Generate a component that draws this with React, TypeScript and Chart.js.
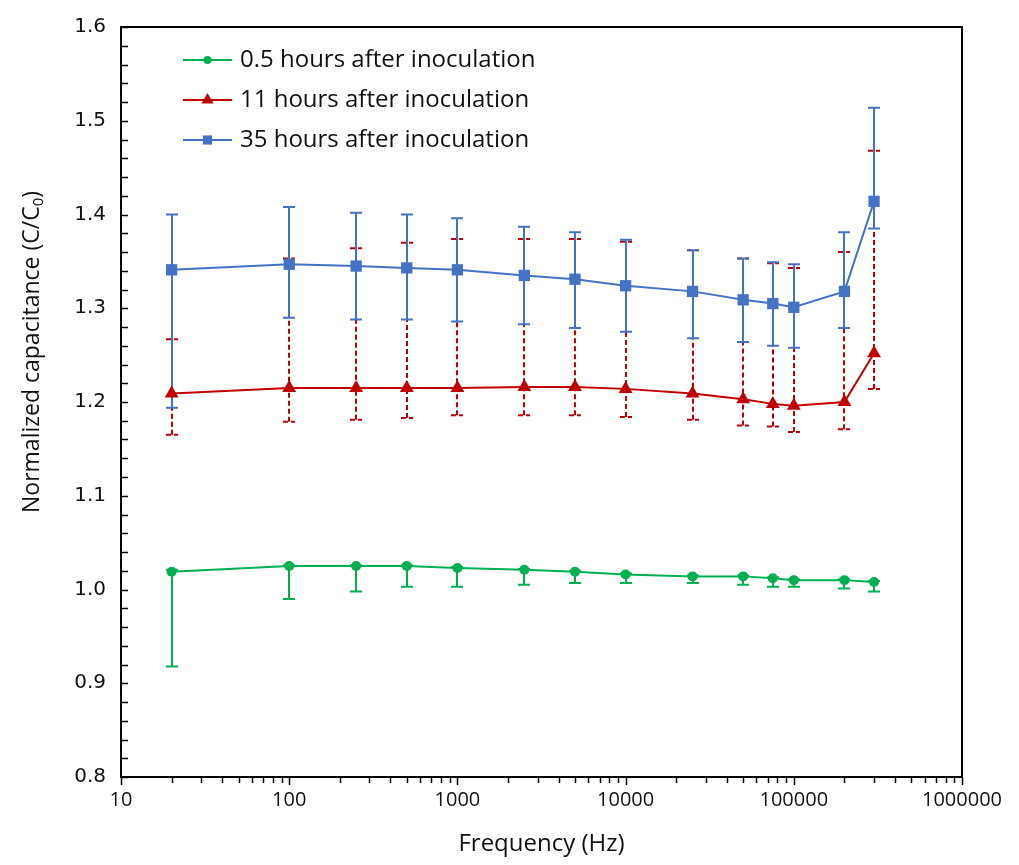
import React, { useEffect, useRef } from 'react';
import { Chart, registerables } from 'chart.js';
Chart.register(...registerables);

const frequencies = [20, 100, 250, 500, 1000, 2500, 5000, 10000, 25000, 50000, 75000, 100000, 200000, 300000];

const h05Values = [1.019, 1.025, 1.025, 1.025, 1.023, 1.021, 1.019, 1.016, 1.014, 1.014, 1.012, 1.010, 1.010, 1.008];
const h05Low = [0.918, 0.990, 0.998, 1.003, 1.003, 1.005, 1.007, 1.007, 1.007, 1.005, 1.003, 1.003, 1.001, 0.998];
const h05High = [1.021, 1.026, 1.026, 1.026, 1.024, 1.022, 1.020, 1.017, 1.015, 1.015, 1.013, 1.011, 1.011, 1.009];

const h11Values = [1.209, 1.215, 1.215, 1.215, 1.215, 1.216, 1.216, 1.214, 1.209, 1.203, 1.198, 1.196, 1.200, 1.252];
const h11Low = [1.165, 1.179, 1.181, 1.183, 1.186, 1.186, 1.186, 1.184, 1.181, 1.175, 1.174, 1.168, 1.171, 1.214];
const h11High = [1.267, 1.353, 1.364, 1.370, 1.374, 1.374, 1.374, 1.371, 1.362, 1.353, 1.348, 1.343, 1.360, 1.468];

const h35Values = [1.341, 1.347, 1.345, 1.343, 1.341, 1.335, 1.331, 1.324, 1.318, 1.309, 1.305, 1.301, 1.318, 1.414];
const h35Low = [1.194, 1.290, 1.288, 1.288, 1.286, 1.283, 1.279, 1.275, 1.268, 1.264, 1.260, 1.258, 1.279, 1.385];
const h35High = [1.400, 1.408, 1.402, 1.400, 1.396, 1.387, 1.381, 1.373, 1.362, 1.353, 1.349, 1.347, 1.381, 1.514];

const seriesLabels = ['0.5 hours after inoculation', '11 hours after inoculation', '35 hours after inoculation'];
const xTickValues = [10, 100, 1000, 10000, 100000, 1000000];
const yTickValues = [0.8, 0.9, 1.0, 1.1, 1.2, 1.3, 1.4, 1.5, 1.6];

const GREEN = '#00B050';
const RED = '#C00000';
const BLUE = '#4472C4';

const seriesStyles = [
  { color: GREEN, style: 'circle', radius: 5, legendRadius: 4, dash: [] as number[] },
  { color: RED, style: 'triangle', radius: 8, legendRadius: 7, dash: [5, 3] },
  { color: BLUE, style: 'rect', radius: 8, legendRadius: 6.5, dash: [] as number[] },
];
const lows = [h05Low, h11Low, h35Low];
const highs = [h05High, h11High, h35High];

function drawMarker(ctx: CanvasRenderingContext2D, style: string, x: number, y: number, r: number, color: string) {
  ctx.save();
  ctx.fillStyle = color;
  ctx.beginPath();
  if (style === 'circle') {
    ctx.arc(x, y, r, 0, Math.PI * 2);
  } else if (style === 'triangle') {
    ctx.moveTo(x, y - r);
    ctx.lineTo(x + r * 0.866, y + r * 0.5);
    ctx.lineTo(x - r * 0.866, y + r * 0.5);
    ctx.closePath();
  } else {
    const s = r * Math.SQRT1_2;
    ctx.rect(x - s, y - s, 2 * s, 2 * s);
  }
  ctx.fill();
  ctx.restore();
}

const errorBarPlugin = {
  id: 'errorBars',
  beforeDatasetsDraw(chart: any) {
    const ctx = chart.ctx as CanvasRenderingContext2D;
    const xs = chart.scales.x;
    const ys = chart.scales.y;
    for (let d = 0; d < 3; d++) {
      const st = seriesStyles[d];
      ctx.save();
      ctx.strokeStyle = st.color;
      ctx.lineWidth = 2;
      ctx.setLineDash(st.dash);
      frequencies.forEach((f, i) => {
        const x = Math.round(xs.getPixelForValue(f));
        const y1 = ys.getPixelForValue(lows[d][i]);
        const y2 = ys.getPixelForValue(highs[d][i]);
        ctx.beginPath();
        ctx.moveTo(x, y1);
        ctx.lineTo(x, y2);
        ctx.moveTo(x - 6, y1);
        ctx.lineTo(x + 6, y1);
        ctx.moveTo(x - 6, y2);
        ctx.lineTo(x + 6, y2);
        ctx.stroke();
      });
      ctx.restore();
    }
  },
};

const decorPlugin = {
  id: 'decor',
  afterDraw(chart: any) {
    const ctx = chart.ctx as CanvasRenderingContext2D;
    const a = chart.chartArea;
    const xs = chart.scales.x;
    const ys = chart.scales.y;
    ctx.save();
    // frame
    ctx.strokeStyle = '#000';
    ctx.lineWidth = 2;
    ctx.setLineDash([]);
    ctx.strokeRect(a.left, a.top, a.right - a.left, a.bottom - a.top);
    // y ticks inside, every 0.02
    ctx.lineWidth = 1.5;
    for (let k = 0; k <= 40; k++) {
      const v = 0.8 + k * 0.02;
      const y = Math.round(ys.getPixelForValue(v)) + 0.5;
      ctx.beginPath();
      ctx.moveTo(a.left, y);
      ctx.lineTo(a.left + 7, y);
      ctx.stroke();
    }
    // x ticks outside
    for (let e = 1; e <= 6; e++) {
      for (let m = 1; m <= 9; m++) {
        const v = m * Math.pow(10, e);
        if (v > 1000000) break;
        const x = Math.round(xs.getPixelForValue(v)) + 0.5;
        ctx.beginPath();
        ctx.moveTo(x, a.bottom);
        ctx.lineTo(x, a.bottom + (m === 1 ? 8 : 6));
        ctx.stroke();
      }
    }
    // axis titles
    ctx.fillStyle = '#111';
    ctx.font = '24px "Open Sans"';
    ctx.textAlign = 'center';
    ctx.textBaseline = 'middle';
    ctx.fillText('Frequency (Hz)', (a.left + a.right) / 2, 844);

    ctx.save();
    ctx.translate(31, 352);
    ctx.rotate(-Math.PI / 2);
    const main = 'Normalized capacitance (C/C';
    ctx.font = '23px "Open Sans"';
    const w1 = ctx.measureText(main).width;
    const w3 = ctx.measureText(')').width;
    ctx.font = '15px "Open Sans"';
    const w2 = ctx.measureText('0').width;
    const total = w1 + w2 + w3;
    let sx = -total / 2;
    ctx.textAlign = 'left';
    ctx.textBaseline = 'alphabetic';
    ctx.font = '23px "Open Sans"';
    ctx.fillText(main, sx, 8);
    sx += w1;
    ctx.font = '15px "Open Sans"';
    ctx.fillText('0', sx, 12);
    sx += w2;
    ctx.font = '23px "Open Sans"';
    ctx.fillText(')', sx, 8);
    ctx.restore();

    // legend
    const rows = [60, 100, 140];
    for (let d = 0; d < 3; d++) {
      const st = seriesStyles[d];
      const y = rows[d];
      ctx.strokeStyle = st.color;
      ctx.lineWidth = 2;
      ctx.beginPath();
      ctx.moveTo(183, y);
      ctx.lineTo(232, y);
      ctx.stroke();
      drawMarker(ctx, st.style, 207.5, y, st.legendRadius, st.color);
      ctx.fillStyle = '#111';
      ctx.font = '24px "Open Sans"';
      ctx.textAlign = 'left';
      ctx.textBaseline = 'middle';
      ctx.fillText(seriesLabels[d], 240, y);
    }
    ctx.restore();
  },
};

export default function App() {
  const ref = useRef<HTMLCanvasElement | null>(null);
  useEffect(() => {
    if (!ref.current) return;
    const valueSets = [h05Values, h11Values, h35Values];
    const chart = new Chart(ref.current, {
      type: 'line',
      data: {
        datasets: valueSets.map((vals, d) => ({
          label: seriesLabels[d],
          data: frequencies.map((f, i) => ({ x: f, y: vals[i] })),
          borderColor: seriesStyles[d].color,
          backgroundColor: seriesStyles[d].color,
          pointBackgroundColor: seriesStyles[d].color,
          pointBorderColor: seriesStyles[d].color,
          pointBorderWidth: 0,
          pointStyle: seriesStyles[d].style,
          pointRadius: seriesStyles[d].radius,
          borderWidth: 2,
          tension: 0,
          fill: false,
          order: 2 - d,
        })),
      },
      options: {
        animation: false,
        responsive: false,
        layout: { padding: { top: 22, right: 57, left: 0, bottom: 0 } },
        plugins: { legend: { display: false }, tooltip: { enabled: false } },
        scales: {
          x: {
            type: 'logarithmic',
            min: 10,
            max: 1000000,
            grid: { display: true, drawOnChartArea: false, drawTicks: false },
            border: { display: false },
            afterBuildTicks: (s: any) => { s.ticks = xTickValues.map((v) => ({ value: v })); },
            afterFit: (s: any) => { s.height = 88; },
            ticks: {
              autoSkip: false,
              maxRotation: 0,
              padding: 11,
              color: '#111',
              font: { family: 'Open Sans', size: 20 },
              callback: (v: any) => String(v),
            },
          },
          y: {
            type: 'linear',
            min: 0.8,
            max: 1.6,
            grid: { display: true, drawOnChartArea: false, drawTicks: false },
            border: { display: false },
            afterBuildTicks: (s: any) => { s.ticks = yTickValues.map((v) => ({ value: v })); },
            afterFit: (s: any) => { s.width = 121; },
            ticks: {
              padding: 15,
              color: '#111',
              font: { family: 'DejaVu Sans', size: 20 },
              callback: (v: any) => Number(v).toFixed(1),
            },
          },
        },
      },
      plugins: [errorBarPlugin, decorPlugin],
    } as any);
    return () => chart.destroy();
  }, []);
  return (
    <div style={{ position: 'absolute', left: 0, top: 0, width: 1019, height: 865, background: '#fff' }}>
      <canvas ref={ref} width={1019} height={865} style={{ display: 'block' }} />
    </div>
  );
}
